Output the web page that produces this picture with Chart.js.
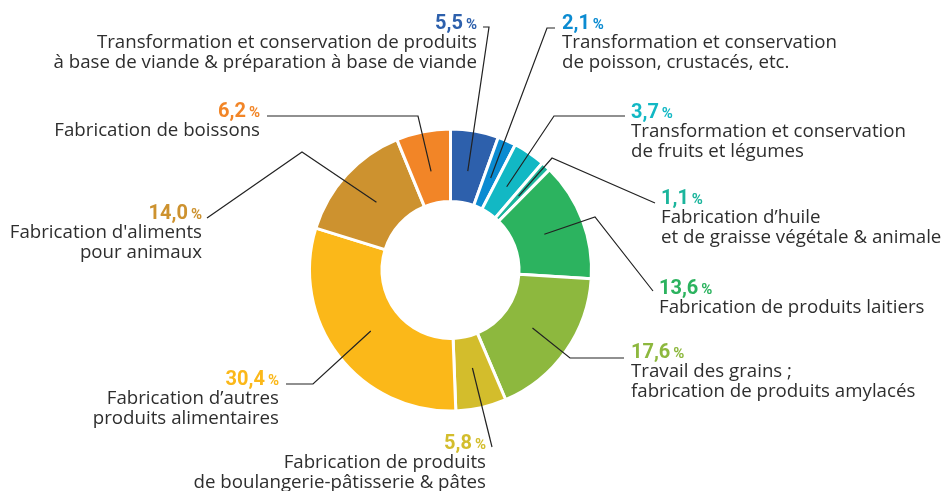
<!DOCTYPE html>
<html lang="fr">
<head>
<meta charset="utf-8">
<script src="https://cdn.jsdelivr.net/npm/chart.js@4.4.1/dist/chart.umd.min.js"></script>
<style>
  html, body { margin: 0; padding: 0; background: #fff; }
  canvas { display: block; }
</style>
</head>
<body>
<canvas id="ia-donut" width="943" height="491"></canvas>
<script>
// secteurs, dans l'ordre horaire depuis midi
var categories = [
  ['Transformation et conservation de produits', 'à base de viande & préparation à base de viande'],
  ['Transformation et conservation', 'de poisson, crustacés, etc.'],
  ['Transformation et conservation', 'de fruits et légumes'],
  ['Fabrication d’huile', 'et de graisse végétale & animale'],
  ['Fabrication de produits laitiers'],
  ['Travail des grains ;', 'fabrication de produits amylacés'],
  ['Fabrication de produits', 'de boulangerie-pâtisserie & pâtes'],
  ['Fabrication d’autres', 'produits alimentaires'],
  ['Fabrication d\'aliments', 'pour animaux'],
  ['Fabrication de boissons']
];
var values = [5.5, 2.1, 3.7, 1.1, 13.6, 17.6, 5.8, 30.4, 14.0, 6.2];
var colors = ['#2d60ac', '#0b8bd1', '#12b8c4', '#1bb59c', '#2cb35f',
              '#8db83e', '#d3bd2c', '#fbb819', '#cd922f', '#f28527'];

// emplacement des étiquettes : point d'accroche du pourcentage + coudes du trait
var callouts = [
  { x: 477, y: 22,  align: 'right', path: [[483, 27], [489, 27]] },
  { x: 562, y: 22,  align: 'left',  path: [[555, 28], [547, 28]] },
  { x: 631, y: 111, align: 'left',  path: [[625, 116], [554, 116]] },
  { x: 661, y: 197, align: 'left',  path: [[655, 203], [552, 158]] },
  { x: 659, y: 287, align: 'left',  path: [[653, 291], [595, 217]] },
  { x: 631, y: 351, align: 'left',  path: [[624, 358], [570, 358]] },
  { x: 486, y: 442, align: 'right', path: [[492, 447]] },
  { x: 279, y: 378, align: 'right', path: [[286, 384], [313, 384]] },
  { x: 202, y: 212, align: 'right', path: [[207, 218], [302, 152]] },
  { x: 260, y: 110, align: 'right', path: [[267, 116], [418, 116]] }
];

var NUM_FONT = 'bold 20px Roboto';
var PCT_FONT = 'bold 15px Roboto';
var TXT_FONT = '18.7px "Open Sans"';

var calloutPlugin = {
  id: 'callouts',
  afterDatasetsDraw: function(chart) {
    var ctx = chart.ctx;
    var arcs = chart.getDatasetMeta(0).data;
    ctx.save();
    arcs.forEach(function(arc, i) {
      var c = callouts[i];
      var p = arc.getProps(['x', 'y', 'startAngle', 'endAngle', 'innerRadius', 'outerRadius'], true);
      var mid = (p.startAngle + p.endAngle) / 2;
      var r = p.innerRadius + (p.outerRadius - p.innerRadius) * 0.44;
      var ax = p.x + Math.cos(mid) * r;
      var ay = p.y + Math.sin(mid) * r;

      // trait de rappel
      ctx.beginPath();
      ctx.moveTo(c.path[0][0], c.path[0][1]);
      for (var k = 1; k < c.path.length; k++) ctx.lineTo(c.path[k][0], c.path[k][1]);
      ctx.lineTo(ax, ay);
      ctx.strokeStyle = '#222';
      ctx.lineWidth = 1.2;
      ctx.stroke();

      // valeur "xx,x %"
      var num = values[i].toFixed(1).replace('.', ',');
      ctx.textBaseline = 'alphabetic';
      ctx.font = NUM_FONT;
      var nw = ctx.measureText(num).width;
      ctx.font = PCT_FONT;
      var pw = ctx.measureText('%').width;
      var gap = 3;
      var x0 = c.align === 'left' ? c.x : c.x - (nw + gap + pw);
      var base = c.y + 7;
      ctx.textAlign = 'left';
      ctx.fillStyle = colors[i];
      ctx.font = NUM_FONT;
      ctx.fillText(num, x0, base);
      ctx.font = PCT_FONT;
      ctx.fillText('%', x0 + nw + gap, base);

      // libellé
      ctx.font = TXT_FONT;
      ctx.fillStyle = '#2e2e2e';
      ctx.textAlign = c.align;
      ctx.textBaseline = 'middle';
      categories[i].forEach(function(line, j) {
        ctx.fillText(line, c.x, c.y + 21 + j * 19.5);
      });
    });
    ctx.restore();
  }
};

var chart = new Chart(document.getElementById('ia-donut'), {
  type: 'doughnut',
  data: {
    labels: categories.map(function(l) { return l.join(' '); }),
    datasets: [{
      data: values,
      backgroundColor: colors,
      borderColor: '#fff',
      borderWidth: 3
    }]
  },
  options: {
    responsive: false,
    animation: false,
    radius: 141,
    cutout: '48.6%',
    layout: { padding: { left: 300, right: 342, top: 120, bottom: 71 } },
    plugins: {
      legend: { display: false },
      tooltip: { enabled: false }
    }
  },
  plugins: [calloutPlugin]
});
</script>
</body>
</html>
